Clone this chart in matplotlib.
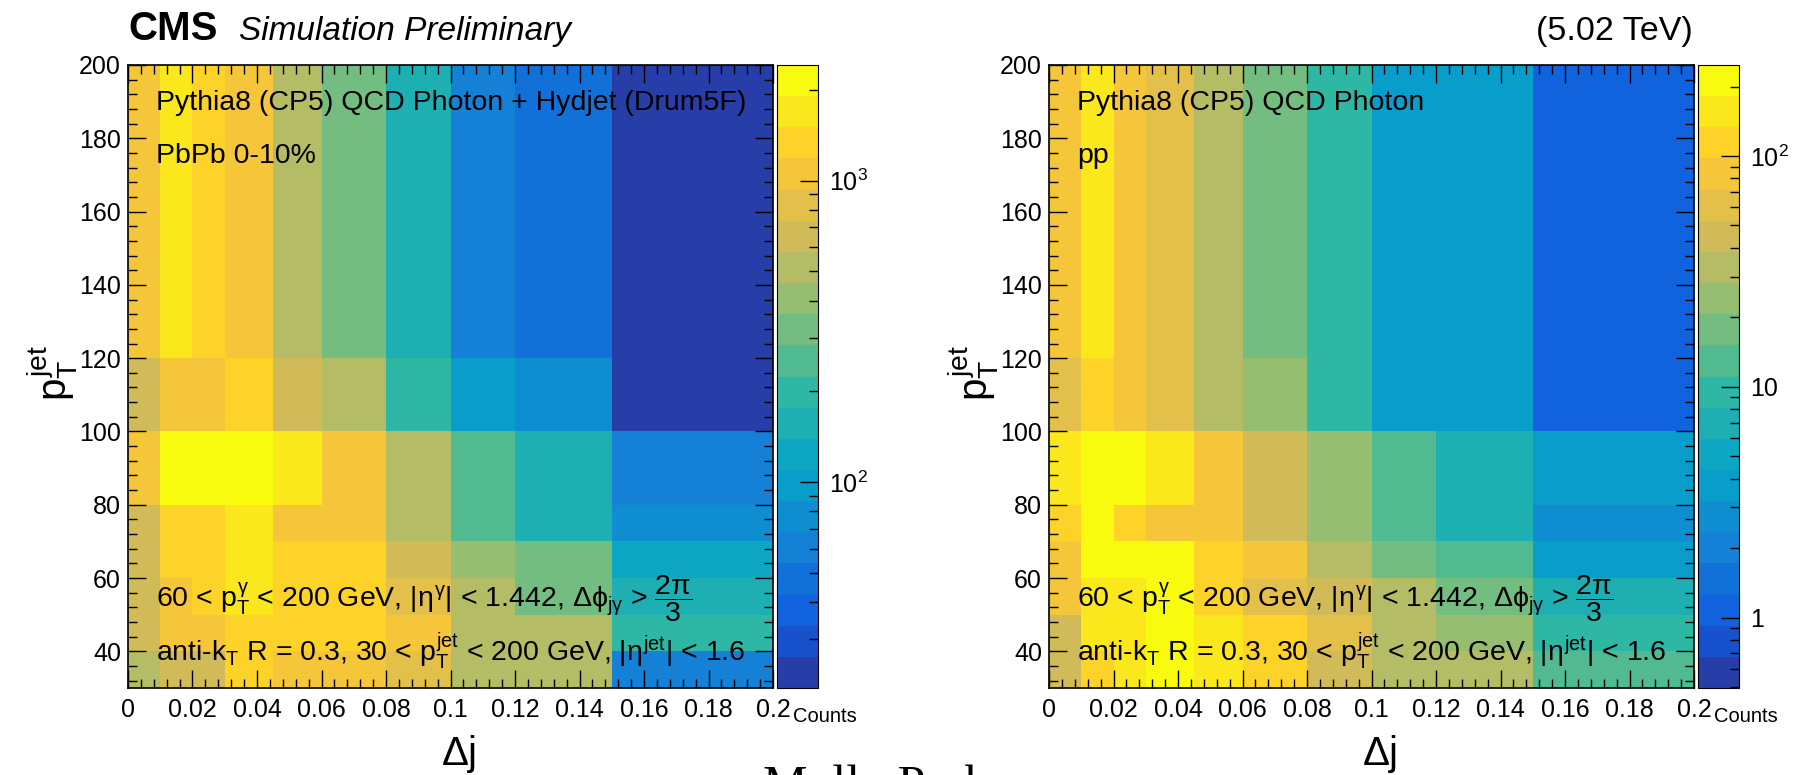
import numpy as np
import matplotlib
matplotlib.use("Agg")
import matplotlib.pyplot as plt
from matplotlib.colors import LinearSegmentedColormap, ListedColormap, LogNorm
from matplotlib.ticker import MultipleLocator, FuncFormatter, LogLocator, NullFormatter

plt.rcParams['font.family'] = ['Liberation Sans', 'DejaVu Sans']
plt.rcParams['mathtext.fontset'] = 'custom'
plt.rcParams['mathtext.rm'] = 'Liberation Sans'
plt.rcParams['mathtext.it'] = 'Liberation Sans'
plt.rcParams['mathtext.sf'] = 'Liberation Sans'
plt.rcParams['mathtext.bf'] = 'Liberation Sans:bold'

# bin edges
dj_edges = [0, 0.01, 0.02, 0.03, 0.045, 0.06, 0.08, 0.1, 0.12, 0.15, 0.2]
ptjet_edges = [30, 40, 50, 60, 70, 80, 100, 120, 200]

# counts, one row per pT(jet) bin (30-40 first), one column per delta-j bin
pbpb_counts = [
    [515, 654, 654, 1335, 1050, 1050, 830, 515, 515, 61],
    [654, 1050, 1050, 1335, 1335, 1335, 1050, 515, 515, 199],
    [654, 1050, 1335, 1690, 1335, 1335, 830, 515, 320, 157],
    [654, 1335, 1335, 1690, 1335, 1335, 654, 406, 320, 124],
    [654, 1335, 1335, 1690, 1050, 1050, 515, 252, 157, 77],
    [1050, 2150, 2150, 2150, 1690, 1050, 515, 252, 157, 61],
    [654, 1050, 1050, 1335, 654, 515, 199, 97, 77, 23],
    [1050, 1690, 1335, 1050, 515, 320, 157, 61, 48, 23],
]
pp_counts = [
    [45, 114, 156, 213, 156, 114, 45, 33, 33, 13],
    [45, 156, 156, 213, 156, 114, 61, 33, 24, 9.5],
    [84, 156, 156, 213, 114, 61, 45, 33, 17.7, 7.0],
    [84, 213, 213, 213, 114, 84, 33, 17.7, 13, 3.7],
    [114, 213, 114, 84, 84, 45, 24, 13, 7.0, 2.7],
    [156, 213, 213, 156, 84, 45, 24, 13, 7.0, 3.7],
    [61, 114, 84, 61, 33, 24, 9.5, 3.7, 3.7, 1.08],
    [84, 156, 84, 61, 33, 17.7, 9.5, 3.7, 3.7, 1.08],
]

# ROOT kBird palette, 20 contour levels
stops = [0.0, 0.125, 0.25, 0.375, 0.5, 0.625, 0.75, 0.875, 1.0]
red = [0.2082, 0.0592, 0.0780, 0.0232, 0.1802, 0.5301, 0.8186, 0.9956, 0.9764]
green = [0.1664, 0.3599, 0.5041, 0.6419, 0.7178, 0.7492, 0.7328, 0.7862, 0.9832]
blue = [0.5293, 0.8684, 0.8385, 0.7914, 0.6425, 0.4662, 0.3499, 0.1968, 0.0539]
bird = LinearSegmentedColormap.from_list('bird', list(zip(stops, zip(red, green, blue))), N=255)
ncont = 20
cmap = ListedColormap([bird(int((i + 0.99) * 255 / ncont) / 254) for i in range(ncont)])

W, H = 1799, 775
fig = plt.figure(figsize=(W / 100, H / 100), dpi=100)


def rect(l, t, r, b):
    return [l / W, 1 - b / H, (r - l) / W, (b - t) / H]


sel_line = r'60 < $p_{T}^{\gamma}$ < 200 GeV, $|\eta^{\gamma}|$ < 1.442, $\Delta\phi_{j\gamma}$ > $\dfrac{2\pi}{3}$'
jet_line = r'anti-$k_{T}$ R = 0.3, 30 < $p_{T}^{jet}$ < 200 GeV, $|\eta^{jet}|$ < 1.6'


def panel(left, counts, zmin, zmax, cticks, clabels, label1, label2):
    right = left + 645
    ax = fig.add_axes(rect(left, 65, right, 688))
    cax = fig.add_axes(rect(right + 4, 65, right + 45, 688))
    mesh = ax.pcolormesh(dj_edges, ptjet_edges, np.array(counts), cmap=cmap,
                         norm=LogNorm(vmin=zmin, vmax=zmax), edgecolors='face',
                         linewidth=0, antialiased=False)
    ax.set_xlim(0, 0.2)
    ax.set_ylim(30, 200)
    ax.xaxis.set_major_locator(MultipleLocator(0.02))
    ax.xaxis.set_minor_locator(MultipleLocator(0.004))
    ax.yaxis.set_major_locator(MultipleLocator(20))
    ax.yaxis.set_minor_locator(MultipleLocator(4))
    ax.xaxis.set_major_formatter(FuncFormatter(lambda v, p: '%g' % round(v, 3)))
    ax.tick_params(which='both', direction='in', top=True, right=True, labelsize=18, width=1.0)
    ax.tick_params(which='major', length=13)
    ax.tick_params(which='minor', length=6.5)
    ax.tick_params(axis='x', pad=7)
    ax.tick_params(axis='y', pad=5)
    for s in ax.spines.values():
        s.set_linewidth(1.2)

    ax.text(0.044, 0.927, label1, transform=ax.transAxes, fontsize=20.5, va='baseline')
    ax.text(0.044, 0.843, label2, transform=ax.transAxes, fontsize=20.5, va='baseline')
    ax.text(0.044, 0.13, sel_line, transform=ax.transAxes, fontsize=20.5, va='baseline')
    ax.text(0.044, 0.043, jet_line, transform=ax.transAxes, fontsize=20.5, va='baseline')

    cb = fig.colorbar(mesh, cax=cax)
    cb.outline.set_linewidth(0.8)
    cax.yaxis.set_ticks(cticks)
    cax.yaxis.set_ticklabels(clabels)
    cax.yaxis.set_minor_locator(LogLocator(base=10, subs=np.arange(2, 10)))
    cax.yaxis.set_minor_formatter(NullFormatter())
    cax.tick_params(which='both', direction='in', right=True, left=False, labelsize=18, width=1.0, pad=8)
    cax.tick_params(which='major', length=13)
    cax.tick_params(which='minor', length=6.5)

    fig.text((right + 20) / W, 1 - 722 / H, 'Counts', fontsize=14.5, va='baseline', ha='left')
    fig.text((left + 331) / W, 1 - 765 / H, r'$\Delta$j', fontsize=29, va='baseline', ha='center')
    fig.text((left - 76) / W, 1 - 373 / H, r'$p_{T}^{jet}$', fontsize=29, rotation=90,
             va='center', ha='center')


panel(128, pbpb_counts, 20.7, 2420, [100, 1000], [r'$10^{2}$', r'$10^{3}$'],
      'Pythia8 (CP5) QCD Photon + Hydjet (Drum5F)', 'PbPb 0-10%')
panel(1049, pp_counts, 0.495, 248, [1, 10, 100], ['1', '10', r'$10^{2}$'],
      'Pythia8 (CP5) QCD Photon', 'pp')

fig.text(128 / W, 1 - 40 / H, 'CMS', fontsize=29, fontweight='bold', va='baseline', ha='left')
fig.text(239 / W, 1 - 40 / H, 'Simulation Preliminary', fontsize=24, style='italic',
         va='baseline', ha='left')
fig.text(1693 / W, 1 - 40 / H, '(5.02 TeV)', fontsize=24.5, va='baseline', ha='right')
fig.text(876 / W, 1 - 800 / H, 'Molly Park', fontsize=36, family='Liberation Serif',
         va='baseline', ha='center')

fig.savefig('out.png', dpi=100)
